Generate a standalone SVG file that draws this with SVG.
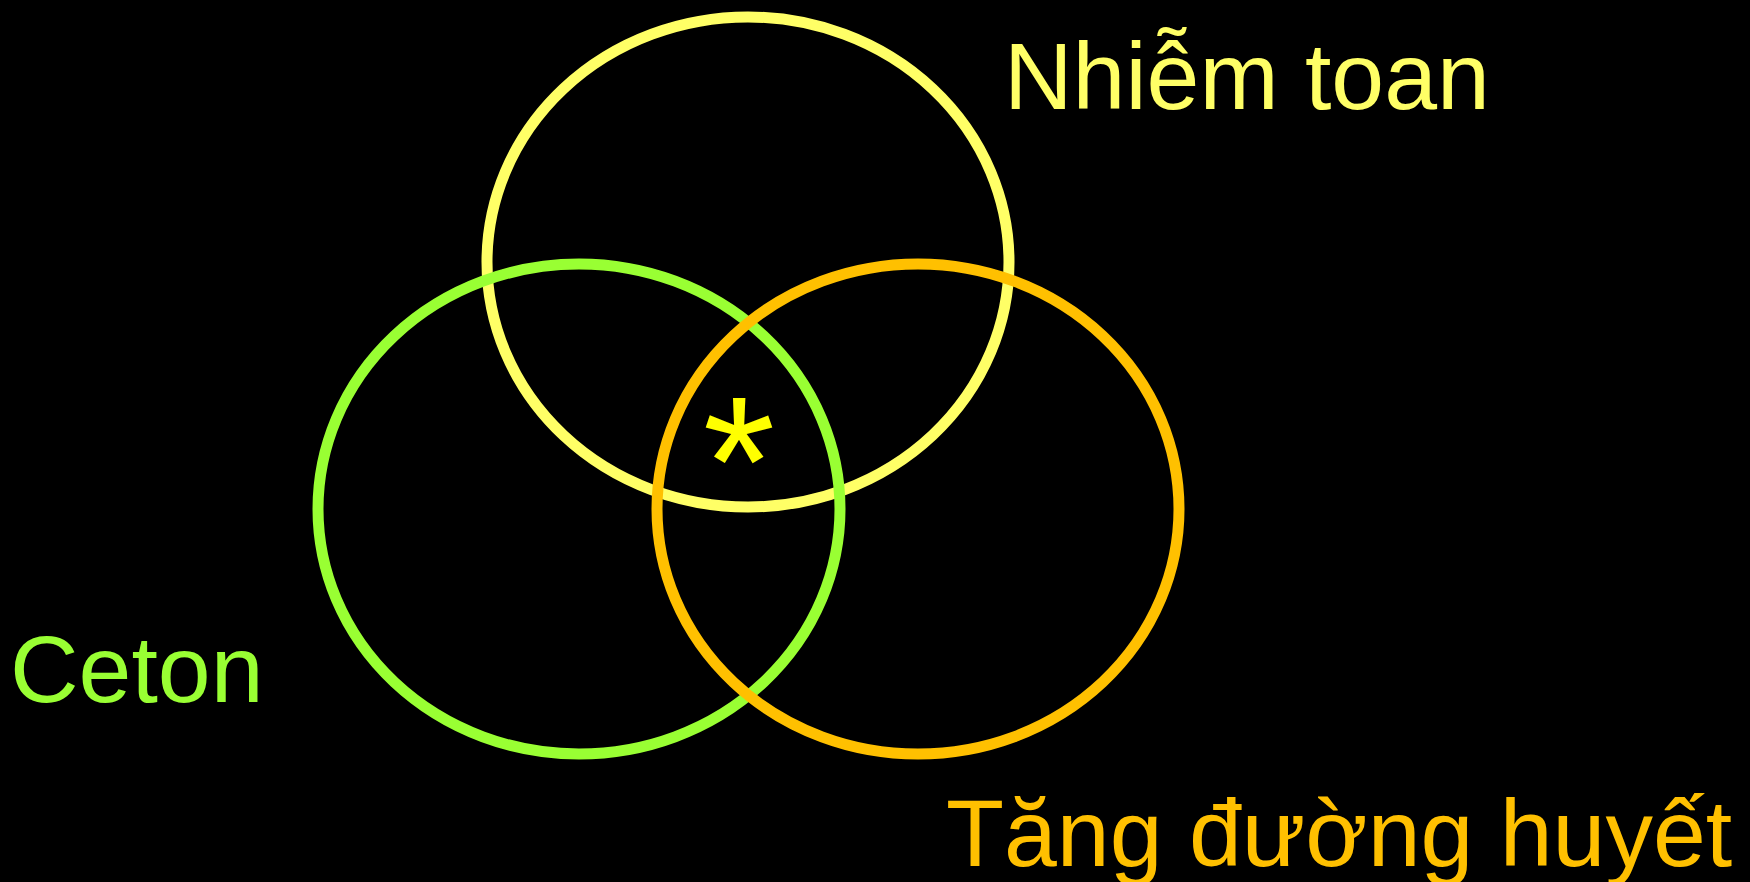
<svg xmlns="http://www.w3.org/2000/svg" width="1750" height="882" viewBox="0 0 1750 882">
<style>
.ring{fill:none;stroke-width:11}
.lbl{font-family:"Liberation Sans",Arial,sans-serif;font-size:95px}
</style>
<rect x="0" y="0" width="1750" height="882" fill="#000000"/>
<g id="nhiem-toan">
<ellipse class="ring" cx="748" cy="262" rx="261" ry="245" stroke="#FFFF66"/>
<text class="lbl" x="1004" y="109" fill="#FFFF66">Nhiễm toan</text>
</g>
<g id="ceton">
<ellipse class="ring" cx="579" cy="509" rx="261" ry="245" stroke="#99FF33"/>
<text class="lbl" x="10" y="702" fill="#99FF33">Ceton</text>
</g>
<g id="tang-duong-huyet">
<ellipse class="ring" cx="918" cy="509" rx="261" ry="245" stroke="#FFC000"/>
<text class="lbl" x="946" y="866" font-size="94" fill="#FFC000">Tăng đường huyết</text>
</g>
<g id="center">
<text x="739" y="526" text-anchor="middle" font-family="'Liberation Sans',Arial,sans-serif" font-size="186" fill="#FFFF00">*</text>
</g>
<g id="connectors"></g>
</svg>
